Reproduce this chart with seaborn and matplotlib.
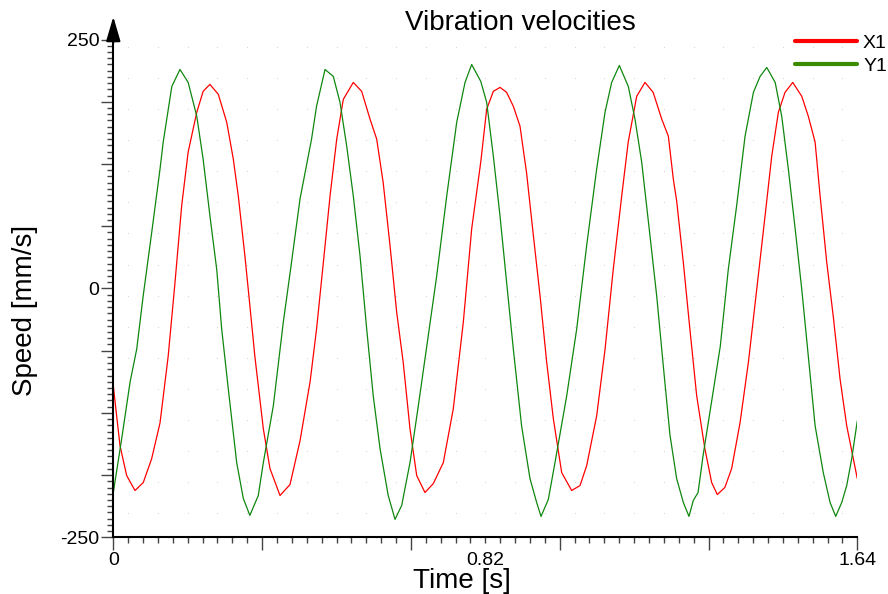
import numpy as np
import pandas as pd
import seaborn as sns
import matplotlib.pyplot as plt
from matplotlib.lines import Line2D

sns.set_style("white")
plt.rcParams['font.family'] = ['Liberation Sans', 'DejaVu Sans']
plt.rcParams['text.color'] = 'black'
plt.rcParams['xtick.color'] = 'black'
plt.rcParams['ytick.color'] = 'black'

# values (time in s, speed in mm/s)
x1_time = [0.000, 0.0148, 0.0295, 0.0478, 0.066, 0.0846, 0.103, 0.121, 0.136, 0.1507,
           0.165, 0.184, 0.198, 0.213, 0.2315, 0.25, 0.2645, 0.2755, 0.290, 0.301,
           0.312, 0.3307, 0.3454, 0.3675, 0.3895, 0.4116, 0.4337, 0.448, 0.463, 0.4778,
           0.4925, 0.507, 0.529, 0.5475, 0.566, 0.5806, 0.595, 0.61, 0.6247, 0.639,
           0.654, 0.6688, 0.687, 0.7054, 0.7274, 0.7494, 0.7715, 0.79, 0.81, 0.823,
           0.8377, 0.8524, 0.867, 0.8818, 0.8965, 0.911, 0.926, 0.9406, 0.9553, 0.97,
           0.9884, 1.0104, 1.0288, 1.0435, 1.0655, 1.084, 1.102, 1.1207, 1.135, 1.1537,
           1.172, 1.19, 1.209, 1.2235, 1.2344, 1.2418, 1.2565, 1.271, 1.286, 1.304,
           1.319, 1.3314, 1.348, 1.363, 1.3815, 1.40, 1.4183, 1.4367, 1.4514, 1.466,
           1.4807, 1.4977, 1.5176, 1.532, 1.547, 1.558, 1.5727, 1.587, 1.602, 1.6167,
           1.64]
x1_speed = [-98, -158, -188, -203, -195, -171, -135, -68, 6, 83,
            137, 177, 198, 205, 195, 167, 130, 93, 33, -17,
            -68, -141, -181, -208, -197, -153, -94, -41, 26, 93,
            150, 190, 207, 198, 170, 150, 106, 43, -24, -74,
            -141, -188, -205, -196, -175, -121, -34, 60, 127, 180,
            198, 202, 197, 183, 163, 116, 53, -7, -74, -131,
            -185, -203, -198, -178, -128, -61, 19, 93, 147, 193,
            207, 197, 170, 153, 110, 88, 26, -41, -108, -161,
            -195, -207, -200, -181, -135, -74, -1, 73, 133, 177,
            197, 207, 193, 173, 147, 93, 26, -28, -91, -138,
            -191]

y1_time = [0.000, 0.0185, 0.037, 0.0516, 0.066, 0.0846, 0.103, 0.110, 0.129, 0.147,
           0.165, 0.184, 0.198, 0.213, 0.228, 0.239, 0.2535, 0.272, 0.2866, 0.301,
           0.3196, 0.3307, 0.3527, 0.3747, 0.3895, 0.4116, 0.437, 0.448, 0.4667, 0.485,
           0.4997, 0.5145, 0.529, 0.5438, 0.5586, 0.573, 0.588, 0.606, 0.621, 0.6357,
           0.654, 0.6723, 0.691, 0.713, 0.735, 0.757, 0.7753, 0.79, 0.81, 0.823,
           0.8377, 0.8524, 0.867, 0.8818, 0.900, 0.9185, 0.9332, 0.9428, 0.9589, 0.9736,
           0.9994, 1.0214, 1.0434, 1.0655, 1.0839, 1.0986, 1.1154, 1.1352, 1.15, 1.1647,
           1.183, 1.1977, 1.2124, 1.227, 1.2418, 1.2565, 1.269, 1.2785, 1.289, 1.30,
           1.3187, 1.338, 1.3556, 1.374, 1.3926, 1.411, 1.4257, 1.4404, 1.459, 1.4734,
           1.488, 1.503, 1.5176, 1.532, 1.547, 1.565, 1.58, 1.5924, 1.6057, 1.6167,
           1.6277, 1.64]
y1_speed = [-205, -151, -94, -61, -7, 56, 120, 147, 203, 220,
            207, 173, 130, 73, 19, -41, -101, -175, -211, -228,
            -208, -175, -118, -34, 15, 90, 150, 183, 220, 213,
            187, 143, 93, 33, -41, -108, -161, -208, -232, -218,
            -175, -118, -58, 13, 93, 167, 207, 225, 208, 187,
            133, 73, 6, -61, -138, -191, -215, -229, -212, -175,
            -108, -41, 43, 120, 177, 207, 224, 203, 170, 127,
            53, -7, -78, -147, -191, -215, -229, -213, -205, -168,
            -114, -58, 19, 83, 153, 197, 213, 222, 207, 173,
            120, 60, -1, -68, -138, -185, -215, -229, -215, -198,
            -171, -133]

series_names = ['X1', 'Y1']
line_colors = ['#ff0000', '#0f870f']
legend_colors = ['#ff0000', '#3c8c00']

ytick_text = ['-250', '', '', '', '0', '', '', '', '250']
xtick_text = ['0', '', '', '', '', '1.64']
mid_label = '0.82'

x1 = pd.DataFrame({'time': x1_time, 'speed': x1_speed})
y1 = pd.DataFrame({'time': y1_time, 'speed': y1_speed})

fig = plt.figure(figsize=(8.88, 5.94), dpi=100)
ax = fig.add_axes([113.3/888, 1-537.3/594, 744/888, (537.3-16.7)/594])

# faint dot grid
gx, gy = np.meshgrid(np.arange(0.0328, 1.64, 0.0656), np.arange(-226, 260, 31.25))
ax.scatter(gx.ravel(), gy.ravel(), s=0.6, color='#d0d0d0', zorder=0, linewidths=0)

sns.lineplot(data=x1, x='time', y='speed', ax=ax, color=line_colors[0], lw=0.9,
             estimator=None, sort=False)
sns.lineplot(data=y1, x='time', y='speed', ax=ax, color=line_colors[1], lw=0.9,
             estimator=None, sort=False)

ax.set_xlim(0, 1.64)
ax.set_ylim(-250, 273)
ax.set_xlabel('')
ax.set_ylabel('')

for s in ['top', 'right']:
    ax.spines[s].set_visible(False)
for s in ['left', 'bottom']:
    ax.spines[s].set_linewidth(1.5)
    ax.spines[s].set_color('black')
ax.spines['left'].set_bounds(-250, 260)

ax.set_yticks(np.linspace(-250, 250, 9), labels=ytick_text)
ax.set_yticks(np.linspace(-250, 250, 81), minor=True)
ax.set_xticks(np.linspace(0, 1.64, 6), labels=xtick_text)
minor_x = np.linspace(0, 1.64, 51)
minor_lbl = [''] * len(minor_x)
minor_lbl[25] = mid_label
ax.set_xticks(minor_x, labels=minor_lbl, minor=True)

ax.tick_params(which='both', bottom=True, left=True, direction='out')
ax.tick_params(which='major', length=9, width=1, color='#444444', labelsize=14,
               labelcolor='black')
ax.tick_params(which='minor', length=4.5, width=1, color='#444444', labelsize=14,
               labelcolor='black')
ax.tick_params(axis='x', which='major', pad=1.5)
ax.tick_params(axis='x', which='minor', pad=6)
ax.tick_params(axis='y', which='major', pad=1)

# arrow at the top of the y axis
ax.annotate('', xy=(0, 1), xytext=(0, 0.95), xycoords='axes fraction',
            arrowprops=dict(arrowstyle='-|>,head_length=0.75,head_width=0.22',
                            color='black', lw=1.5, mutation_scale=20,
                            shrinkA=0, shrinkB=0),
            annotation_clip=False)

handles = [Line2D([], [], color=c, lw=3) for c in legend_colors]
ax.legend(handles, series_names, loc='upper left',
          bbox_to_anchor=(795/888, 1-34/594), bbox_transform=fig.transFigure,
          frameon=False, borderpad=0, borderaxespad=0, handlelength=3.2,
          handletextpad=0.3, labelspacing=0.3, fontsize=14)

fig.text(520/888, 1-23/594, 'Vibration velocities', ha='center', va='center', fontsize=20)
fig.text(25/888, 1-310/594, 'Speed [mm/s]', rotation=90, ha='center', va='center', fontsize=20)
fig.text(462/888, 1-581/594, 'Time [s]', ha='center', va='center', fontsize=20)

fig.savefig('out.png', dpi=100)
